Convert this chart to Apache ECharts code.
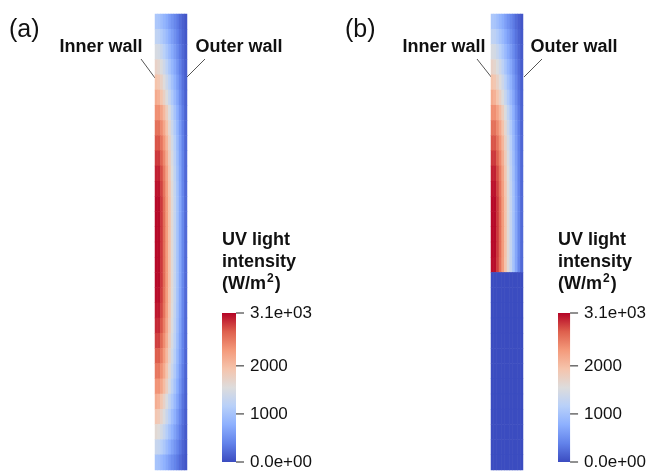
<!DOCTYPE html>
<html><head><meta charset="utf-8">
<script src="https://cdn.jsdelivr.net/npm/echarts@6/dist/echarts.min.js"></script>
<style>html,body{margin:0;padding:0;background:#fff}#c{width:649px;height:473px}</style>
</head><body><div id="c"></div>
<script>
// radial bins (inner wall -> outer wall)
const radialBins = ['r0','r1','r2','r3','r4','r5','r6','r7','r8','r9','r10','r11'];
// axial bins (top -> bottom)
const axialBins = ['z0','z1','z2','z3','z4','z5','z6','z7','z8','z9','z10','z11','z12','z13','z14',
  'z15','z16','z17','z18','z19','z20','z21','z22','z23','z24','z25','z26','z27','z28','z29'];
const colorbarTicks = [0, 1000, 2000, 3100];
const colorbarLabels = ['0.0e+00', '1000', '2000', '3.1e+03'];
const colorMin = 0, colorMax = 3100;

// (a) UV intensity (W/m2), rows top->bottom, columns inner->outer wall
const fieldA = [
 [1050,1020, 930, 840, 740, 630, 530, 430, 340, 230, 145,  75],
 [1250,1210,1110,1000, 880, 750, 630, 510, 400, 280, 170,  90],
 [1480,1440,1320,1180,1040, 890, 740, 610, 470, 330, 205, 105],
 [1720,1670,1530,1380,1200,1030, 860, 710, 550, 380, 240, 120],
 [1950,1890,1740,1560,1370,1170, 980, 800, 620, 440, 265, 140],
 [2180,2110,1940,1740,1530,1310,1090, 890, 700, 485, 300, 155],
 [2400,2400,2240,2040,1800,1520,1250,1010, 780, 550, 340, 170],
 [2600,2600,2430,2210,1950,1650,1350,1090, 850, 595, 365, 180],
 [2760,2760,2580,2350,2070,1750,1440,1160, 900, 630, 390, 195],
 [2880,2880,2690,2450,2160,1830,1500,1210, 940, 660, 410, 205],
 [2980,2980,2790,2530,2240,1890,1550,1250, 970, 680, 415, 210],
 [3040,3040,2840,2580,2280,1930,1580,1280, 990, 690, 425, 210],
 [3080,3080,2880,2620,2310,1960,1600,1290,1000, 700, 435, 215],
 [3080,3080,2880,2620,2310,1960,1600,1290,1000, 700, 435, 215],
 [3080,3080,2880,2620,2310,1960,1600,1290,1000, 700, 435, 215],
 [3080,3080,2880,2620,2310,1960,1600,1290,1000, 700, 435, 215],
 [3080,3080,2880,2620,2310,1960,1600,1290,1000, 700, 435, 215],
 [3080,3080,2880,2620,2310,1960,1600,1290,1000, 700, 435, 215],
 [3060,3060,2860,2600,2300,1940,1590,1290, 990, 700, 425, 215],
 [3020,3020,2820,2570,2270,1920,1570,1270, 980, 690, 425, 210],
 [2950,2950,2760,2510,2210,1870,1530,1240, 960, 670, 415, 210],
 [2850,2850,2660,2420,2140,1810,1480,1200, 930, 650, 400, 205],
 [2720,2720,2540,2310,2040,1730,1410,1140, 880, 625, 385, 190],
 [2560,2560,2390,2180,1920,1630,1330,1080, 830, 585, 355, 180],
 [2370,2370,2220,2010,1780,1500,1230,1000, 770, 540, 330, 170],
 [2150,2090,1910,1720,1510,1290,1080, 880, 690, 485, 290, 155],
 [1900,1840,1690,1520,1330,1140, 950, 780, 610, 430, 255, 135],
 [1620,1570,1440,1300,1130, 970, 810, 660, 520, 365, 220, 110],
 [1320,1280,1170,1060, 920, 790, 660, 540, 420, 300, 180,  90],
 [1000, 970, 890, 800, 700, 600, 500, 410, 320, 225, 135,  70]
];
// (b) UV intensity (W/m2), lower part of the wall unlit
const fieldB = [
 [1050,1020, 930, 840, 740, 630, 530, 430, 340, 230, 145,  75],
 [1250,1210,1110,1000, 880, 750, 630, 510, 400, 280, 170,  90],
 [1480,1440,1320,1180,1040, 890, 740, 610, 470, 330, 205, 105],
 [1720,1670,1530,1380,1200,1030, 860, 710, 550, 380, 240, 120],
 [1950,1890,1740,1560,1370,1170, 980, 800, 620, 440, 265, 140],
 [2180,2110,1940,1740,1530,1310,1090, 890, 700, 485, 300, 155],
 [2400,2400,2240,2040,1800,1520,1250,1010, 780, 550, 340, 170],
 [2600,2600,2430,2210,1950,1650,1350,1090, 850, 595, 365, 180],
 [2760,2760,2580,2350,2070,1750,1440,1160, 900, 630, 390, 195],
 [2880,2880,2690,2450,2160,1830,1500,1210, 940, 660, 410, 205],
 [2980,2980,2790,2530,2240,1890,1550,1250, 970, 680, 415, 210],
 [3040,3040,2840,2580,2280,1930,1580,1280, 990, 690, 425, 210],
 [3080,3080,2880,2620,2310,1960,1600,1290,1000, 700, 435, 215],
 [3080,3080,2880,2620,2310,1960,1600,1290,1000, 700, 435, 215],
 [3080,3080,2880,2620,2310,1960,1600,1290,1000, 700, 435, 215],
 [3080,3080,2880,2620,2310,1960,1600,1290,1000, 700, 435, 215],
 [3060,3060,2860,2600,2300,1940,1590,1290, 990, 700, 425, 215],
 [0,0,0,0,0,0,0,0,0,0,0,0],
 [0,0,0,0,0,0,0,0,0,0,0,0],
 [0,0,0,0,0,0,0,0,0,0,0,0],
 [0,0,0,0,0,0,0,0,0,0,0,0],
 [0,0,0,0,0,0,0,0,0,0,0,0],
 [0,0,0,0,0,0,0,0,0,0,0,0],
 [0,0,0,0,0,0,0,0,0,0,0,0],
 [0,0,0,0,0,0,0,0,0,0,0,0],
 [0,0,0,0,0,0,0,0,0,0,0,0],
 [0,0,0,0,0,0,0,0,0,0,0,0],
 [0,0,0,0,0,0,0,0,0,0,0,0],
 [0,0,0,0,0,0,0,0,0,0,0,0],
 [0,0,0,0,0,0,0,0,0,0,0,0]
];
const coolWarm = ['#3b4cc0','#6282ea','#8db0fe','#b8d0f9','#dddcdc','#f5c4ac','#f49a7b','#de604d','#b40426'];

function toCells(field){
  const out=[];
  field.forEach((row,j)=>row.forEach((v,i)=>out.push([i,j,v])));
  return out;
}
const FONT = 'Liberation Sans, Arial, sans-serif';
const chart = echarts.init(document.getElementById('c'), null, {renderer:'canvas'});

const panels = [
  {gx:155, cbx:222, field:fieldA},
  {gx:491, cbx:558, field:fieldB}
];
const gradStops = coolWarm.slice().reverse().map((c,i,a)=>({offset:i/(a.length-1), color:c}));
const grid=[], xAxis=[], yAxis=[], series=[], visualMap=[];
panels.forEach((p,k)=>{
  grid.push({left:p.gx, top:14, width:32, height:456});
  xAxis.push({type:'category', data:radialBins, gridIndex:grid.length-1, show:false});
  yAxis.push({type:'category', data:axialBins, gridIndex:grid.length-1, inverse:true, show:false});
  series.push({type:'heatmap', xAxisIndex:xAxis.length-1, yAxisIndex:yAxis.length-1,
    data:toCells(p.field), progressive:0, emphasis:{disabled:true}, silent:true});
  visualMap.push({type:'continuous', show:false, min:colorMin, max:colorMax,
    seriesIndex:series.length-1, inRange:{color:coolWarm}});
  // colorbar grid
  grid.push({left:p.cbx, top:313, width:14, height:149});
  const gi = grid.length-1;
  xAxis.push({type:'value', gridIndex:gi, show:false, min:0, max:1});
  yAxis.push({type:'value', gridIndex:gi, position:'right', min:colorMin, max:colorMax,
    splitLine:{show:false}, axisLine:{show:false}, axisTick:{show:false},
    axisLabel:{show:true, margin:14, color:'#111', fontFamily:FONT, fontSize:17, customValues:colorbarTicks,
      formatter:(v)=>{const i=colorbarTicks.indexOf(v); return i<0?'':colorbarLabels[i];}}});
  series.push({type:'custom', xAxisIndex:xAxis.length-1, yAxisIndex:yAxis.length-1, silent:true,
    data:[[0, colorMin, colorMax]],
    renderItem:(params, api)=>{
      const a = api.coord([0, api.value(2)]);
      const b = api.coord([1, api.value(1)]);
      return {type:'rect', shape:{x:a[0], y:a[1], width:b[0]-a[0], height:b[1]-a[1]},
        style:{fill:new echarts.graphic.LinearGradient(0,0,0,1,gradStops)}};
    }});
  series.push({type:'custom', xAxisIndex:xAxis.length-1, yAxisIndex:yAxis.length-1, silent:true,
    data:colorbarTicks.map(v=>[1, v]),
    renderItem:(params, api)=>{
      const a = api.coord([api.value(0), api.value(1)]);
      return {type:'line', shape:{x1:a[0], y1:a[1], x2:a[0]+8, y2:a[1]},
        style:{stroke:'#222', lineWidth:1}};
    }});
});

function label(x,y,text){
  return {type:'text', x, y, style:{text, fill:'#111', font:'bold 18px '+FONT, align:'center', verticalAlign:'middle'}};
}
function leader(x1,y1,x2,y2){
  return {type:'line', shape:{x1,y1,x2,y2}, style:{stroke:'#555', lineWidth:1}};
}
function cbTitle(x){
  return {type:'text', x, y:229, style:{
    text:'{m|UV light}\n{m|intensity}\n{m|(W/m}{s|2}{m|)}',
    fill:'#111', font:'bold 18px '+FONT,
    rich:{m:{font:'bold 18px '+FONT, fill:'#111', lineHeight:22},
          s:{font:'bold 12px '+FONT, fill:'#111', lineHeight:22, verticalAlign:'top', padding:[0,1,0,1]}}}};
}
const graphic = [
  {type:'text', left:9, top:18, style:{text:'(a)', fill:'#111', font:'25px '+FONT}},
  {type:'text', left:345, top:18, style:{text:'(b)', fill:'#111', font:'25px '+FONT}},
  label(101,47,'Inner wall'), label(239,47,'Outer wall'),
  label(444,47,'Inner wall'), label(574,47,'Outer wall'),
  leader(141,59,155,78), leader(205,59,187,77),
  leader(477,59,492,78), leader(542,59,524,77),
  cbTitle(222), cbTitle(558)
];

chart.setOption({animation:false, grid, xAxis, yAxis, series, visualMap, graphic});
</script></body></html>
